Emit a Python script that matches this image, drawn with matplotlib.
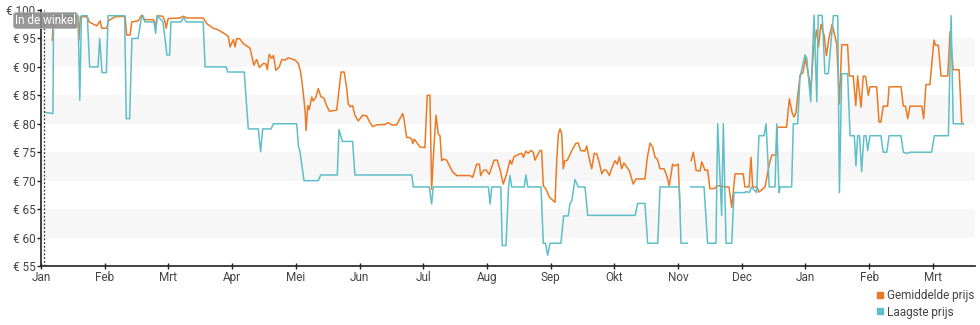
import numpy as np
import matplotlib
matplotlib.use("Agg")
import matplotlib.pyplot as plt
from matplotlib.lines import Line2D

plt.rcParams['font.family'] = ['Roboto', 'DejaVu Sans']

# day index since first of January, price in euro; nan marks a gap in the data
dag_laagste = [
    1.8, 5.7, 6.0, 17.7, 18.5, 19.3, 22.1, 23.2, 27.2, 28.0, 29.1, 31.2, 32.0,
    39.9, 40.7, 42.3, 43.4, 46.3, 47.7, 48.7, 49.6, 53.9, 54.7, 55.5, 58.2,
    60.1, 61.4, 62.0, 66.8, 68.1, 69.3, 77.4, 78.3, 88.3, 89.1, 97.0, 98.9,
    103.7, 104.8, 105.8, 109.8, 110.9, 122.0, 122.9, 123.6, 125.5, 132.3,
    133.5, 141.4, 142.2, 143.8, 148.7, 149.8, 176.9, 177.7, 185.3, 186.4,
    187.2, 213.5, 214.3, 215.1, 219.4, 220.1, 221.9, 223.1, 223.8, 224.6,
    230.6, 231.4, 232.3, 238.6, 239.7, 240.7, 241.8, 242.9, 248.1, 249.4,
    251.6, 252.4, 253.3, 254.8, 256.4, 259.6, 260.9, 283.5, 284.7, 288.2,
    289.5, 294.3, 295.4, 304.6, 305.4, 308.4, 309.2, 310.0, 316.4, 318.1,
    322.1, 322.9, 324.8, 325.6, 326.9, 329.6, 330.7, 335.9, 336.4, 337.9,
    339.1, 341.5, 342.6, 345.0, 346.0, 347.5, 350.3, 351.1, 352.2, 352.7,
    358.2, 359.0, 361.1, 362.2, 364.6, 365.4, 367.3, 368.9, 370.2, 370.9,
    372.8, 374.1, 375.7, 378.1, 380.2, 381.0, 382.1, 384.9, 386.1, 388.1,
    388.9, 389.7, 390.6, 391.6, 392.7, 393.7, 394.5, 395.6, 400.8, 401.9,
    403.6, 404.7, 410.4, 411.5, 413.3, 414.7, 425.0, 426.3, 433.0, 434.3,
    435.3, 440.1,
]
laagste_prijs = [
    82.0, 81.8, 99.0, 99.0, 84.1, 99.0, 99.0, 90.0, 90.0, 95.0, 89.0, 89.0, 99.0,
    99.0, 80.9, 80.9, 95.0, 95.0, 98.2, 99.0, 97.9, 97.9, 95.9, 99.0, 97.9,
    92.1, 92.1, 97.9, 97.9, 98.7, 97.9, 97.9, 90.0, 90.0, 89.1, 89.1, 79.1,
    79.1, 75.1, 79.1, 79.1, 80.0, 80.0, 76.0, 75.1, 70.0, 70.0,
    71.0, 71.0, 79.0, 76.9, 76.9, 71.0, 71.0, 68.9, 68.9, 65.9,
    68.9, 68.9, 65.9, 68.9, 68.9, 58.6, 58.6, 68.9, 70.9, 68.9,
    68.9, 71.0, 68.9, 68.9, 59.0, 59.0, 56.9, 59.0, 59.0, 63.8,
    63.8, 65.9, 66.5, 70.2, 68.9, 68.9, 63.9, 63.9, 66.0, 66.0,
    59.0, 59.0, 68.9, 68.9, 59.0, 59.0, np.nan, 68.9, 68.9, 59.0,
    59.0, 80.0, 63.9, 80.0, 59.0, 59.0, 67.9, 67.9, 68.1, 67.9,
    68.9, 67.9, 77.9, 77.9, 80.0, 68.9, 68.9, 80.0, 67.9, 68.9,
    68.9, 80.0, 80.0, 88.2, 92.1, 91.5, 83.9, 99.1, 83.9, 99.1,
    99.0, 88.8, 88.8, 99.0, 99.0, 67.9, 88.8, 88.8, 77.9, 77.9,
    72.6, 77.9, 77.9, 71.6, 77.9, 77.9, 75.3, 77.9, 77.9, 75.0,
    75.0, 77.9, 77.9, 75.0, 74.8, 75.0, 75.0, 77.9, 77.9, 99.0,
    80.0, 80.0,
]

dag_gemiddeld = [
    5.4, 5.9, 17.7, 18.1, 18.8, 22.1, 23.0, 25.0, 26.6, 28.2, 29.0, 31.4, 32.1,
    35.3, 40.1, 40.9, 42.5, 43.3, 46.4, 48.1, 49.2, 53.6, 54.9, 55.5, 58.1,
    59.2, 59.7, 60.7, 66.3, 67.9, 69.5, 77.4, 79.1, 82.2, 84.6, 88.6, 89.4,
    90.2, 91.8, 92.6, 93.4, 95.0, 96.5, 99.7, 101.6, 102.9, 104.2, 106.1,
    107.4, 108.0, 108.9, 110.1, 110.9, 112.1, 113.7, 114.9, 116.4, 118.0,
    121.2, 122.8, 123.9, 124.9, 126.0, 126.5, 127.3, 128.0, 129.2, 129.9,
    131.2, 132.3, 133.5, 135.0, 136.3, 137.6, 141.1, 143.2, 144.7, 145.9,
    146.6, 147.5, 148.7, 149.8, 151.4, 153.5, 155.4, 156.7, 158.3, 160.2,
    164.2, 165.7, 167.4, 169.7, 171.3, 172.6, 173.2, 174.5, 175.8, 176.9,
    177.4, 178.1, 179.3, 180.9, 183.2, 184.3, 185.6, 186.4, 187.5, 188.5,
    189.6, 190.4, 191.2, 192.0, 193.6, 195.2, 196.5, 198.4, 204.7, 206.0,
    207.9, 209.2, 209.8, 211.1, 212.4, 213.9, 215.1, 216.2, 217.7, 219.0,
    220.6, 222.2, 223.8, 224.6, 225.7, 227.8, 229.4, 230.2, 231.4, 232.5,
    233.7, 234.9, 235.7, 237.0, 238.1, 238.9, 239.7, 241.0, 242.6, 245.3,
    246.1, 246.9, 247.7, 248.5, 249.2, 250.0, 251.2, 253.3, 255.3, 256.4,
    257.5, 259.6, 260.4, 261.6, 262.8, 264.0, 265.2, 266.4, 267.6, 268.7,
    269.9, 271.2, 272.3, 273.9, 275.0, 276.0, 277.1, 278.2, 279.5, 280.7,
    282.6, 283.9, 288.2, 289.3, 290.6, 291.9, 293.0, 294.1, 295.4, 297.3,
    298.6, 299.8, 301.4, 302.5, 304.1, 304.9, 307.5, 310.2, 311.3, 312.6,
    314.5, 315.3, 316.9, 318.1, 319.2, 321.3, 322.6, 324.0, 326.4, 328.3,
    329.6, 331.2, 335.1, 335.9, 337.9, 338.8, 339.6, 341.7, 342.6, 345.5,
    347.5, 348.7, 350.7, 351.4, 355.8, 357.1, 358.4, 359.3, 360.3, 361.4,
    362.2, 363.6, 364.8, 366.5, 367.4, 368.6, 370.1, 371.0, 372.2, 373.7,
    374.8, 376.0, 377.5, 379.7, 381.0, 382.1, 384.9, 385.7, 387.6, 388.8,
    389.7, 391.3, 392.4, 393.5, 394.8, 395.6, 398.8, 399.9, 400.8, 401.9,
    404.0, 404.7, 410.4, 411.5, 412.5, 413.6, 414.7, 420.3, 421.2, 422.3,
    424.2, 426.1, 426.9, 428.2, 429.5, 432.7, 433.8, 435.3, 438.1, 439.4,
    440.1,
]
gemiddelde_prijs = [
    94.7, 98.8, 98.8, 94.7, 98.8, 98.8, 97.9, 97.5, 97.2, 98.1, 96.8, 96.8, 98.1,
    98.8, 98.9, 95.6, 95.6, 97.9, 98.1, 99.1, 98.3, 98.3, 97.4, 99.0, 98.9,
    97.9, 96.8, 98.5, 98.6, 98.9, 98.6, 98.6, 97.6, 96.8, 96.5, 95.6, 95.3,
    93.5, 94.8, 93.5, 95.0, 94.9, 94.1, 93.3, 90.3, 91.3, 89.9, 90.6,
    90.5, 89.5, 92.2, 91.5, 92.0, 89.4, 90.0, 91.3, 91.2, 91.6,
    91.2, 90.6, 89.1, 86.2, 82.4, 78.8, 83.2, 82.5, 84.7, 84.0,
    84.7, 86.2, 84.8, 84.5, 83.2, 82.2, 82.4, 89.1, 89.1, 86.2,
    83.5, 83.0, 83.2, 81.5, 80.5, 81.5, 81.4, 80.4, 79.5, 79.8,
    79.9, 80.2, 79.8, 79.8, 80.9, 81.8, 80.9, 77.6, 77.6, 77.3,
    76.5, 77.3, 76.7, 75.9, 75.8, 85.0, 85.0, 68.5, 75.9, 81.5,
    78.2, 77.9, 73.5, 73.8, 73.6, 72.4, 71.5, 70.9, 70.9, 70.6,
    72.9, 72.9, 70.9, 71.8, 71.9, 71.1, 72.4, 73.6, 73.6, 72.0,
    69.4, 71.2, 73.6, 72.9, 74.2, 74.6, 74.8, 74.1, 75.2, 74.8,
    75.3, 75.0, 73.6, 74.5, 75.3, 75.3, 69.1, 68.5, 67.1, 66.2,
    73.5, 78.2, 79.1, 78.2, 72.1, 73.5, 73.6, 75.3, 76.6, 76.6,
    75.3, 75.2, 76.1, 73.9, 72.1, 74.8, 74.7, 73.2, 71.2, 71.9,
    71.8, 70.9, 72.1, 73.5, 72.9, 74.2, 72.1, 73.1, 72.4, 71.8,
    69.4, 70.3, 70.3, 74.0, 76.6, 75.9, 74.1, 73.8, 72.1, 72.1,
    70.9, 69.1, 72.9, 72.6, 72.9, 65.3, np.nan, 73.5, 75.0, 71.8,
    71.7, 73.3, 71.8, 71.9, 68.6, 68.6, 69.1, 69.1, 68.9, 68.9,
    65.3, 71.2, 71.2, 68.9, 68.9, 74.1, 68.9, 68.9, 68.0, 68.9,
    72.8, 74.5, 74.5, 79.4, 79.4, 84.4, 82.0, 81.2, 82.0, 85.9,
    88.5, 89.0, 91.5, 88.0, 86.0, 93.0, 96.5, 93.5, 97.5, 95.5,
    92.0, 95.0, 97.5, 94.1, 83.5, 93.9, 93.9, 88.4, 88.4, 83.2,
    88.4, 82.9, 88.4, 88.3, 85.0, 86.5, 86.5, 80.3, 80.3, 83.1,
    83.1, 86.5, 86.5, 83.1, 83.1, 80.9, 83.1, 83.1, 80.9, 86.9,
    86.9, 94.7, 93.8, 93.8, 88.4, 88.4, 96.2, 89.5, 89.5, 80.0,
    80.0,
]

maanden = ['Jan', 'Feb', 'Mrt', 'Apr', 'Mei', 'Jun', 'Jul', 'Aug', 'Sep',
           'Okt', 'Nov', 'Dec', 'Jan', 'Feb', 'Mrt']
prijs_ticks = [55, 60, 65, 70, 75, 80, 85, 90, 95, 100]
banden = [(60, 65), (70, 75), (80, 85), (90, 95)]

oranje = '#ec7a24'
turkoois = '#5fbfc8'
tekst = '#444444'

fig = plt.figure(figsize=(9.8, 3.25), dpi=100)
ax = fig.add_axes([41 / 980, 59 / 325, 934 / 980, 256 / 325])

for lo, hi in banden:
    ax.axhspan(lo, hi, color='#f7f7f7', lw=0, zorder=0)

ax.plot(dag_gemiddeld, gemiddelde_prijs, color=oranje, lw=1.1, zorder=3)
ax.plot(dag_laagste, laagste_prijs, color=turkoois, lw=1.1, zorder=4)

# start of the shop listing
ax.axvline(1.6, color='#333333', lw=0.9, ls=(0, (1.5, 1.5)), zorder=5)

maand_len = 30.4
ax.set_xlim(0, 445.7)
ax.set_ylim(55, 100)
ax.set_xticks(np.arange(len(maanden)) * maand_len)
ax.set_xticklabels(maanden)
ax.set_yticks(prijs_ticks)
ax.set_yticklabels(['€ {}'.format(p) for p in prijs_ticks])

for side in ('top', 'right'):
    ax.spines[side].set_visible(False)
for side in ('left', 'bottom'):
    ax.spines[side].set_color('#222222')
    ax.spines[side].set_linewidth(1.2)

ax.tick_params(axis='x', direction='inout', length=5, width=1, pad=1,
               labelsize=8.5, labelcolor=tekst, color='#222222')
ax.tick_params(axis='y', direction='out', length=3, width=1, pad=1,
               labelsize=8.5, labelcolor=tekst, color='#222222')

fig.text(45.5 / 980, 1 - 20.5 / 325, 'In de winkel', ha='center', va='center',
         color='white', fontsize=8.5, zorder=10,
         bbox=dict(boxstyle='round,pad=0.12,rounding_size=0.2',
                   facecolor='#8c8c8c', edgecolor='#b0b0b0', lw=0.6,
                   alpha=0.9))

handles = [Line2D([], [], marker='s', ls='none', color=oranje, markersize=5),
           Line2D([], [], marker='s', ls='none', color=turkoois, markersize=5)]
fig.legend(handles, ['Gemiddelde prijs', 'Laagste prijs'], loc='upper right',
           bbox_to_anchor=(974 / 980, 1 - 289 / 325), frameon=False,
           fontsize=8.5, labelcolor=tekst, handlelength=0.5, handletextpad=0.3,
           labelspacing=0.3, borderpad=0, borderaxespad=0)

fig.savefig('out.png', dpi=100, facecolor='white')
